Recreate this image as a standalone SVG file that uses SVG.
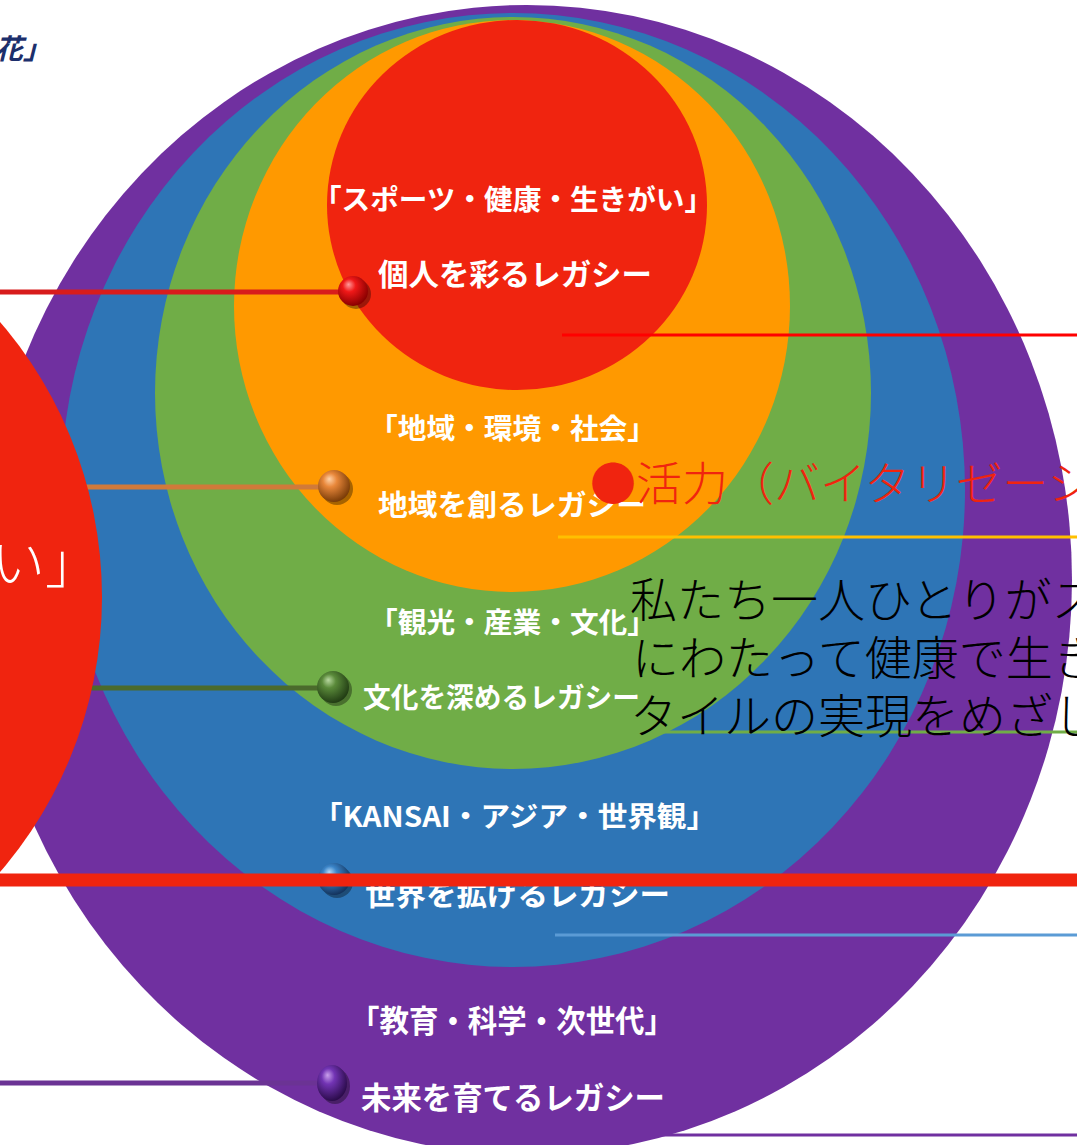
<svg xmlns="http://www.w3.org/2000/svg" width="1077" height="1145" viewBox="0 0 1077 1145">
<style>
.lbl{font-family:"Noto Sans CJK JP","Noto Sans",sans-serif;font-weight:700;fill:#ffffff}
.thin{font-family:"Noto Sans CJK JP","Noto Sans",sans-serif;font-weight:300}
.rline{stroke-width:3;fill:none}
.lline{stroke-width:5;fill:none}
</style>
<defs>
<radialGradient id="gRed" cx="0.42" cy="0.38" r="0.62" fx="0.35" fy="0.28"><stop offset="0" stop-color="#ff9a9a"/><stop offset="0.35" stop-color="#f01818"/><stop offset="1" stop-color="#8a0000"/></radialGradient>
<radialGradient id="gOra" cx="0.42" cy="0.38" r="0.62" fx="0.35" fy="0.28"><stop offset="0" stop-color="#ffd2a8"/><stop offset="0.35" stop-color="#e8873a"/><stop offset="1" stop-color="#7a3c08"/></radialGradient>
<radialGradient id="gGrn" cx="0.42" cy="0.38" r="0.62" fx="0.35" fy="0.28"><stop offset="0" stop-color="#b8d8a0"/><stop offset="0.35" stop-color="#5a8a3a"/><stop offset="1" stop-color="#223d14"/></radialGradient>
<radialGradient id="gBlu" cx="0.42" cy="0.38" r="0.62" fx="0.35" fy="0.28"><stop offset="0" stop-color="#b0d8f8"/><stop offset="0.35" stop-color="#3a84c8"/><stop offset="1" stop-color="#14345e"/></radialGradient>
<radialGradient id="gPur" cx="0.42" cy="0.38" r="0.62" fx="0.35" fy="0.28"><stop offset="0" stop-color="#c9a0ec"/><stop offset="0.35" stop-color="#7234b4"/><stop offset="1" stop-color="#2c0c4c"/></radialGradient>
</defs>

<g id="title-fragment">
<text x="-5" y="59" font-family="Noto Sans CJK JP,sans-serif" font-weight="700" font-style="italic" font-size="28" fill="#1c2f6c">花」</text>
</g>

<g id="rings">
<ellipse id="ring-purple" cx="527" cy="580" rx="545" ry="575" fill="#7030a0"/>
<ellipse id="ring-blue" cx="513" cy="490" rx="452" ry="477" fill="#2e75b6"/>
<ellipse id="ring-green" cx="513" cy="393" rx="358" ry="376" fill="#70ad47"/>
<ellipse id="ring-orange" cx="512" cy="306" rx="278" ry="286" fill="#ff9900"/>
<ellipse id="ring-red" cx="517" cy="205" rx="190" ry="185" fill="#f0240f"/>
</g>

<g id="connectors">
<line class="lline" x1="0" y1="292" x2="345" y2="292" stroke="#d81c1c"/>
<line class="lline" x1="0" y1="487" x2="325" y2="487" stroke="#d07a3a"/>
<line class="lline" x1="0" y1="688" x2="325" y2="688" stroke="#4b6a2c"/>
<line class="lline" x1="0" y1="1083" x2="325" y2="1083" stroke="#6b3394"/>
<line class="rline" x1="562" y1="335" x2="1077" y2="335" stroke="#ff0000" stroke-width="4"/>
<line class="rline" x1="558" y1="537" x2="1077" y2="537" stroke="#ffc000"/>
<line class="rline" x1="662" y1="732" x2="1077" y2="732" stroke="#70ad47"/>
<line class="rline" x1="555" y1="935" x2="1077" y2="935" stroke="#5b9bd5"/>
<line class="rline" x1="655" y1="1135" x2="1077" y2="1135" stroke="#7030a0"/>
</g>

<g id="node-sports">
<circle cx="356" cy="294" r="15" fill="#000" opacity="0.35"/>
<circle cx="353" cy="291" r="15" fill="url(#gRed)"/>
<text class="lbl" x="313" y="210" font-size="28" textLength="400" lengthAdjust="spacingAndGlyphs">「スポーツ・健康・生きがい」</text>
<text class="lbl" x="378" y="285" font-size="30" textLength="274" lengthAdjust="spacingAndGlyphs">個人を彩るレガシー</text>
</g>

<g id="node-region">
<circle cx="337" cy="489" r="16" fill="#000" opacity="0.35"/>
<circle cx="334" cy="486" r="16" fill="url(#gOra)"/>
<text class="lbl" x="369" y="439" font-size="28" textLength="287" lengthAdjust="spacingAndGlyphs">「地域・環境・社会」</text>
<text class="lbl" x="378" y="516" font-size="29" textLength="268" lengthAdjust="spacingAndGlyphs">地域を創るレガシー</text>
</g>

<g id="node-culture">
<circle cx="336" cy="690" r="16" fill="#000" opacity="0.35"/>
<circle cx="333" cy="687" r="16" fill="url(#gGrn)"/>
<text class="lbl" x="369" y="633" font-size="28" textLength="287" lengthAdjust="spacingAndGlyphs">「観光・産業・文化」</text>
<text class="lbl" x="363" y="708" font-size="28" textLength="277" lengthAdjust="spacingAndGlyphs">文化を深めるレガシー</text>
</g>

<g id="node-world">
<circle cx="337" cy="882" r="16" fill="#000" opacity="0.35"/>
<circle cx="334" cy="879" r="16" fill="url(#gBlu)"/>
<text class="lbl" x="313" y="827" font-size="28" textLength="403" lengthAdjust="spacingAndGlyphs">「KANSAI・アジア・世界観」</text>
<text class="lbl" x="365" y="905" font-size="30" textLength="305" lengthAdjust="spacingAndGlyphs">世界を拡げるレガシー</text>
</g>

<g id="node-future">
<ellipse cx="335" cy="1086" rx="15" ry="18" fill="#000" opacity="0.35"/>
<ellipse cx="332" cy="1083" rx="15" ry="18" fill="url(#gPur)"/>
<text class="lbl" x="350" y="1032" font-size="31" textLength="324" lengthAdjust="spacingAndGlyphs">「教育・科学・次世代」</text>
<text class="lbl" x="361" y="1109" font-size="31" textLength="304" lengthAdjust="spacingAndGlyphs">未来を育てるレガシー</text>
</g>

<g id="overlay-circle">
<circle cx="-320" cy="597" r="422" fill="#f0240f"/>
<text class="thin" x="-9" y="583" font-size="54" fill="#ffffff">い」</text>
</g>

<g id="overlay-text">
<text class="thin" x="590" y="500" font-size="46" fill="#f0240f">●活力（バイタリゼーシ</text>
<text class="thin" x="630" y="617" font-size="47" fill="#000000">私たち一人ひとりがス</text>
<text class="thin" x="632" y="675" font-size="47" fill="#000000">にわたって健康で生き</text>
<text class="thin" x="630" y="733" font-size="47" fill="#000000">タイルの実現をめざし</text>
</g>

<g id="overlay-line">
<line x1="0" y1="880" x2="1077" y2="880" stroke="#f0240f" stroke-width="13"/>
</g>
</svg>
